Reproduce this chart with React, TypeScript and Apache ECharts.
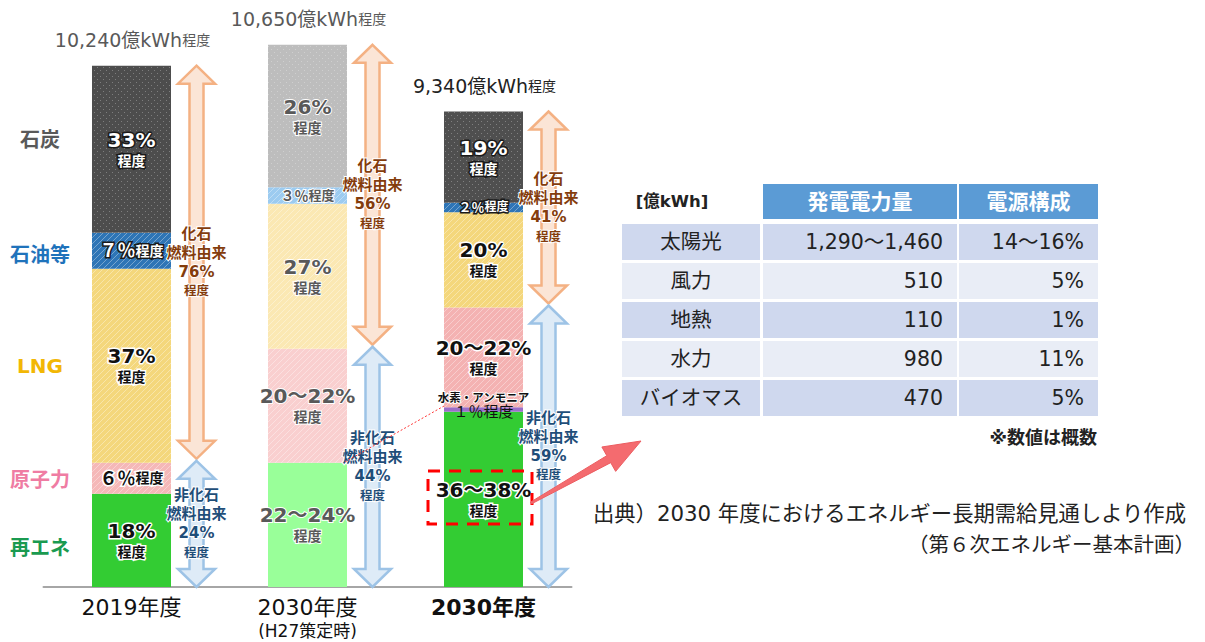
import React, { useEffect, useRef } from "react";
import * as echarts from "echarts";

const FONT = '"DejaVu Sans", "Noto Sans CJK JP", sans-serif';

// ---------- data ----------
const categories = ["2019年度", "2030年度\n(H27策定時)", "2030年度"];
const totals = [10240, 10650, 9340];
const totalTexts = ["10,240", "10,650", "9,340"];
const renewable = [1830, 2440, 3440];
const hydrogen = [0, 0, 90];
const nuclear = [610, 2240, 1960];
const lng = [3810, 2850, 1870];
const oil = [710, 320, 190];
const coal = [3280, 2800, 1790];
const renewableShares = ["18%", "22～24%", "36～38%"];
const hydrogenShares = ["", "", "１％"];
const nuclearShares = ["６％", "20～22%", "20～22%"];
const lngShares = ["37%", "27%", "20%"];
const oilShares = ["７％", "３％", "２％"];
const coalShares = ["33%", "26%", "19%"];
const fossilShares = ["76%", "56%", "41%"];
const nonFossilShares = ["24%", "44%", "59%"];
const sourceNames = ["石炭", "石油等", "LNG", "原子力", "再エネ"];

const tableHead = ["[億kWh]", "発電電力量", "電源構成"];
const tableSources = ["太陽光", "風力", "地熱", "水力", "バイオマス"];
const tableAmounts = ["1,290～1,460", "510", "110", "980", "470"];
const tableShares = ["14～16%", "5%", "1%", "11%", "5%"];
const tableNote = "※数値は概数";
const sourceLine1 = "出典）2030 年度におけるエネルギー長期需給見通しより作成";
const sourceLine2 = "（第６次エネルギー基本計画）";

// ---------- styles ----------
const colors = {
  coal: ["#4d4d4d", "#bdbdbd", "#4f4f4f"],
  oil: ["#2e75b6", "#9ccbf0", "#2e75b6"],
  lng: ["#f4d77c", "#fbe8b3", "#f4d77c"],
  nuclear: ["#f5b8b8", "#f9cfcf", "#f4b2b2"],
  renewable: ["#33cc33", "#99ff99", "#33cc33"],
  hydrogen: ["#9b6fc9", "#9b6fc9", "#9b6fc9"],
};
const textures: Record<string, string> = { coal: "dots", oil: "hatch", lng: "hatch", nuclear: "hatch" };
const sourceLabelColors = ["#595959", "#1f73bb", "#f2b705", "#ef7ca3", "#1a9a50"];
const sourceLabelY = [140, 255, 366, 480, 548];

const themes: Record<string, any> = {
  dark: { color: "#fff", textBorderColor: "#1a1a1a", textBorderWidth: 3 },
  light: { color: "#111", textBorderColor: "#fff", textBorderWidth: 3 },
  gray: { color: "#595959", textBorderColor: "#fff", textBorderWidth: 2 },
};
const themeBySeries: Record<string, string[]> = {
  coal: ["dark", "gray", "dark"],
  oil: ["dark", "gray", "dark"],
  lng: ["light", "gray", "light"],
  nuclear: ["light", "gray", "light"],
  renewable: ["light", "gray", "light"],
};
const inlineSize: Record<string, number[]> = {
  oil: [18, 14, 13],
  nuclear: [18, 18, 18],
};

function makePattern(base: string, kind: string): any {
  if (!kind || typeof document === "undefined") return base;
  try {
    const cv = document.createElement("canvas");
    cv.width = 6;
    cv.height = 6;
    const ctx = cv.getContext("2d");
    if (!ctx) return base;
    ctx.fillStyle = base;
    ctx.fillRect(0, 0, 6, 6);
    if (kind === "dots") {
      ctx.fillStyle = "rgba(255,255,255,0.28)";
      ctx.fillRect(1, 1, 1, 1);
      ctx.fillRect(4, 4, 1, 1);
    } else {
      ctx.strokeStyle = "rgba(255,255,255,0.35)";
      ctx.lineWidth = 1;
      ctx.beginPath();
      ctx.moveTo(0, 6);
      ctx.lineTo(6, 0);
      ctx.moveTo(-3, 3);
      ctx.lineTo(3, -3);
      ctx.moveTo(3, 9);
      ctx.lineTo(9, 3);
      ctx.stroke();
    }
    return { image: cv.toDataURL(), repeat: "repeat" };
  } catch (e) {
    return base;
  }
}

function segLabel(key: string, share: string, i: number) {
  const th = themes[themeBySeries[key][i]];
  const inline = share.includes("％");
  const qs = inlineSize[key] ? inlineSize[key][i] : 18;
  const small = inline && qs < 16 ? qs - 1 : 14;
  return {
    show: !!share,
    position: "inside",
    formatter: inline ? `{q|${share}}{s|程度}` : `{p|${share}}\n{s|程度}`,
    rich: {
      p: { fontSize: 20, fontWeight: "bold", lineHeight: 23, fontFamily: FONT, ...th },
      q: { fontSize: qs, fontWeight: "bold", lineHeight: qs + 4, fontFamily: FONT, ...th },
      s: { fontSize: small, fontWeight: "bold", lineHeight: 19, fontFamily: FONT, ...th },
    },
  };
}

function barSeries(key: string, name: string, values: number[], shares: string[]) {
  return {
    type: "bar",
    name,
    stack: "total",
    barWidth: 79,
    data: values.map((v, i) => ({
      value: v,
      itemStyle: { color: makePattern((colors as any)[key][i], textures[key]) },
      label: segLabel(key, shares[i], i),
    })),
  };
}

const nonFossilTop = categories.map((_, i) => renewable[i] + hydrogen[i] + nuclear[i]);

function arrowRender(kind: "fossil" | "non") {
  return (params: any, api: any) => {
    const i = params.dataIndex;
    const cat = api.value(0);
    const pLo = api.coord([cat, api.value(1)]);
    const pHi = api.coord([cat, api.value(2)]);
    const cx = pLo[0] + 65;
    const yTop = pHi[1] + (kind === "non" ? -2 : 0);
    const yBot = pLo[1] - (kind === "fossil" ? 4 : 0);
    const h = 18, hw = 18.5, sw = 7;
    const pts = [
      [cx, yTop], [cx + hw, yTop + h], [cx + sw, yTop + h], [cx + sw, yBot - h],
      [cx + hw, yBot - h], [cx, yBot], [cx - hw, yBot - h], [cx - sw, yBot - h],
      [cx - sw, yTop + h], [cx - hw, yTop + h],
    ];
    const fossil = kind === "fossil";
    const tc = fossil ? "#843c0c" : "#1f4e79";
    const share = fossil ? fossilShares[i] : nonFossilShares[i];
    const head = fossil ? "化石" : "非化石";
    const rs = (fs: number) => ({ fontSize: fs, fontWeight: "bold", fill: tc, lineHeight: 19, fontFamily: FONT, stroke: "#fff", lineWidth: 2 });
    return {
      type: "group",
      children: [
        {
          type: "polygon",
          shape: { points: pts },
          style: { fill: fossil ? "#fbe5d6" : "#deebf7", stroke: fossil ? "#f4b183" : "#9dc3e6", lineWidth: 2.5 },
        },
        {
          type: "text",
          style: {
            text: `{a|${head}}\n{a|燃料由来}\n{b|${share}}\n{c|程度}`,
            x: cx,
            y: (yTop + yBot) / 2,
            align: "center",
            verticalAlign: "middle",
            textAlign: "center",
            textVerticalAlign: "middle",
            rich: { a: rs(15), b: rs(15), c: rs(12.5) },
          },
        },
      ],
    };
  };
}

export default function App() {
  const ref = useRef<HTMLDivElement>(null);
  useEffect(() => {
    if (!ref.current) return;
    const chart = echarts.init(ref.current, undefined, { renderer: "svg" });

    const graphic: any[] = [];
    sourceNames.forEach((n, i) => {
      graphic.push({
        type: "text",
        style: {
          text: n, x: 40, y: sourceLabelY[i], textAlign: "center", textVerticalAlign: "middle",
          fill: sourceLabelColors[i], fontSize: 20, fontWeight: "bold", fontFamily: FONT,
        },
      });
    });

    // table
    const colX = [622, 763, 959];
    const colW = [138, 194, 139];
    const headY = 184, headH = 35, rowY0 = 224, rowStep = 39, rowH = 36;
    graphic.push({
      type: "text",
      style: { text: tableHead[0], x: 672, y: headY + headH / 2, textAlign: "center", textVerticalAlign: "middle", fill: "#222", fontSize: 16.5, fontWeight: "bold", fontFamily: FONT },
    });
    for (let c = 1; c < 3; c++) {
      graphic.push({ type: "rect", shape: { x: colX[c], y: headY, width: colW[c], height: headH }, style: { fill: "#5b9bd5" } });
      graphic.push({
        type: "text",
        style: { text: tableHead[c], x: colX[c] + colW[c] / 2, y: headY + headH / 2, textAlign: "center", textVerticalAlign: "middle", fill: "#fff", fontSize: 21, fontWeight: "bold", fontFamily: FONT },
      });
    }
    tableSources.forEach((s, r) => {
      const y = rowY0 + r * rowStep;
      const fill = r % 2 === 0 ? "#cfd8ee" : "#e9edf6";
      for (let c = 0; c < 3; c++) {
        graphic.push({ type: "rect", shape: { x: colX[c], y, width: colW[c], height: rowH }, style: { fill } });
      }
      const cells = [s, tableAmounts[r], tableShares[r]];
      cells.forEach((t, c) => {
        graphic.push({
          type: "text",
          style: {
            text: t,
            x: c === 0 ? colX[0] + colW[0] / 2 : colX[c] + colW[c] - 14,
            y: y + rowH / 2,
            textAlign: c === 0 ? "center" : "right",
            textVerticalAlign: "middle",
            fill: "#222", fontSize: 20.5, fontFamily: FONT,
          },
        });
      });
    });
    graphic.push({
      type: "text",
      style: { text: tableNote, x: 1097, y: 437, textAlign: "right", textVerticalAlign: "middle", fill: "#222", fontSize: 18, fontWeight: "bold", fontFamily: FONT },
    });
    graphic.push({
      type: "text",
      style: { text: sourceLine1, x: 593, y: 513, textAlign: "left", textVerticalAlign: "middle", fill: "#222", fontSize: 21.3, fontFamily: FONT },
    });
    graphic.push({
      type: "text",
      style: { text: sourceLine2, x: 1195, y: 545, textAlign: "right", textVerticalAlign: "middle", fill: "#222", fontSize: 20.5, fontFamily: FONT },
    });

    // annotations
    graphic.push({
      type: "line",
      shape: { x1: 345, y1: 462, x2: 444, y2: 406 },
      style: { stroke: "#ff3333", lineWidth: 1, lineDash: [2, 2] },
      z: 10,
    });
    graphic.push({
      type: "rect",
      shape: { x: 428, y: 471, width: 104, height: 53 },
      style: { fill: "none", stroke: "#ff0000", lineWidth: 3, lineDash: [12, 9] },
      z: 10,
    });
    {
      const sx = 531, sy = 503, tx = 641, ty = 441;
      const dx = tx - sx, dy = ty - sy;
      const len = Math.sqrt(dx * dx + dy * dy);
      const ux = dx / len, uy = dy / len;
      const nx = -uy, ny = ux;
      const bx = tx - ux * 37, by = ty - uy * 37;
      const pts = [
        [sx - nx * 1, sy - ny * 1], [bx - nx * 4, by - ny * 4], [bx - nx * 14, by - ny * 14], [tx, ty],
        [bx + nx * 14, by + ny * 14], [bx + nx * 4, by + ny * 4], [sx + nx * 1, sy + ny * 1],
      ];
      graphic.push({ type: "polygon", shape: { points: pts }, style: { fill: "#f46b6f", stroke: "#ec5c60", lineWidth: 1 }, z: 10 });
    }

    const option: any = {
      animation: false,
      textStyle: { fontFamily: FONT },
      grid: { left: 43.5, width: 528, top: 27, bottom: 55 },
      xAxis: {
        type: "category",
        data: categories,
        axisTick: { show: false },
        axisLine: { lineStyle: { color: "#a6a6a6", width: 2 } },
        axisLabel: {
          margin: 8,
          formatter: (v: string, i: number) => {
            const parts = v.split("\n");
            if (i === 2) return `{b|${parts[0]}}`;
            return parts.length > 1 ? `{a|${parts[0]}}\n{c|${parts[1]}}` : `{a|${parts[0]}}`;
          },
          rich: {
            a: { fontSize: 22, color: "#111", lineHeight: 24, fontFamily: FONT },
            b: { fontSize: 22, color: "#111", fontWeight: "bold", lineHeight: 24, fontFamily: FONT },
            c: { fontSize: 17, color: "#111", lineHeight: 23, fontFamily: FONT },
          },
        },
      },
      yAxis: { type: "value", min: 0, max: 11000, show: false, splitLine: { show: false } },
      series: [
        barSeries("renewable", "再エネ", renewable, renewableShares),
        {
          type: "bar",
          name: "水素・アンモニア",
          stack: "total",
          barWidth: 79,
          data: hydrogen.map((v, i) => ({
            value: v,
            itemStyle: { color: colors.hydrogen[i] },
            label: {
              show: !!hydrogenShares[i],
              position: "inside",
              offset: [0, -4],
              formatter: `{t|水素・アンモニア}\n{u|${hydrogenShares[i]}程度}`,
              rich: {
                t: { fontSize: 11.5, fontWeight: "bold", color: "#111", lineHeight: 13, fontFamily: FONT, textBorderColor: "#fff", textBorderWidth: 2 },
                u: { fontSize: 15, color: "#111", lineHeight: 16, fontFamily: FONT },
              },
            },
          })),
        },
        barSeries("nuclear", "原子力", nuclear, nuclearShares),
        barSeries("lng", "LNG", lng, lngShares),
        barSeries("oil", "石油等", oil, oilShares),
        barSeries("coal", "石炭", coal, coalShares),
        {
          type: "custom",
          name: "化石燃料由来",
          data: categories.map((_, i) => [i, nonFossilTop[i], totals[i]]),
          encode: { x: 0, y: [1, 2] },
          renderItem: arrowRender("fossil"),
          z: 5,
        },
        {
          type: "custom",
          name: "非化石燃料由来",
          data: categories.map((_, i) => [i, 0, nonFossilTop[i]]),
          encode: { x: 0, y: [1, 2] },
          renderItem: arrowRender("non"),
          z: 5,
        },
        {
          type: "custom",
          name: "合計",
          data: categories.map((_, i) => [i, totals[i]]),
          encode: { x: 0, y: 1 },
          renderItem: (params: any, api: any) => {
            const i = params.dataIndex;
            const p = api.coord([api.value(0), api.value(1)]);
            const col = i === 2 ? "#222" : "#595959";
            return {
              type: "text",
              style: {
                text: `{n|${totalTexts[i]}億kWh}{s|程度}`,
                x: p[0] + 1,
                y: p[1] - 26,
                align: "center",
                verticalAlign: "middle",
                textAlign: "center",
                textVerticalAlign: "middle",
                rich: {
                  n: { fontSize: 19, fill: col, fontFamily: FONT },
                  s: { fontSize: 14, fill: col, fontFamily: FONT },
                },
              },
            };
          },
        },
      ],
      graphic,
    };
    chart.setOption(option);
    return () => chart.dispose();
  }, []);
  return <div ref={ref} style={{ position: "absolute", left: 0, top: 0, width: 1205, height: 642, background: "#fff" }} />;
}
